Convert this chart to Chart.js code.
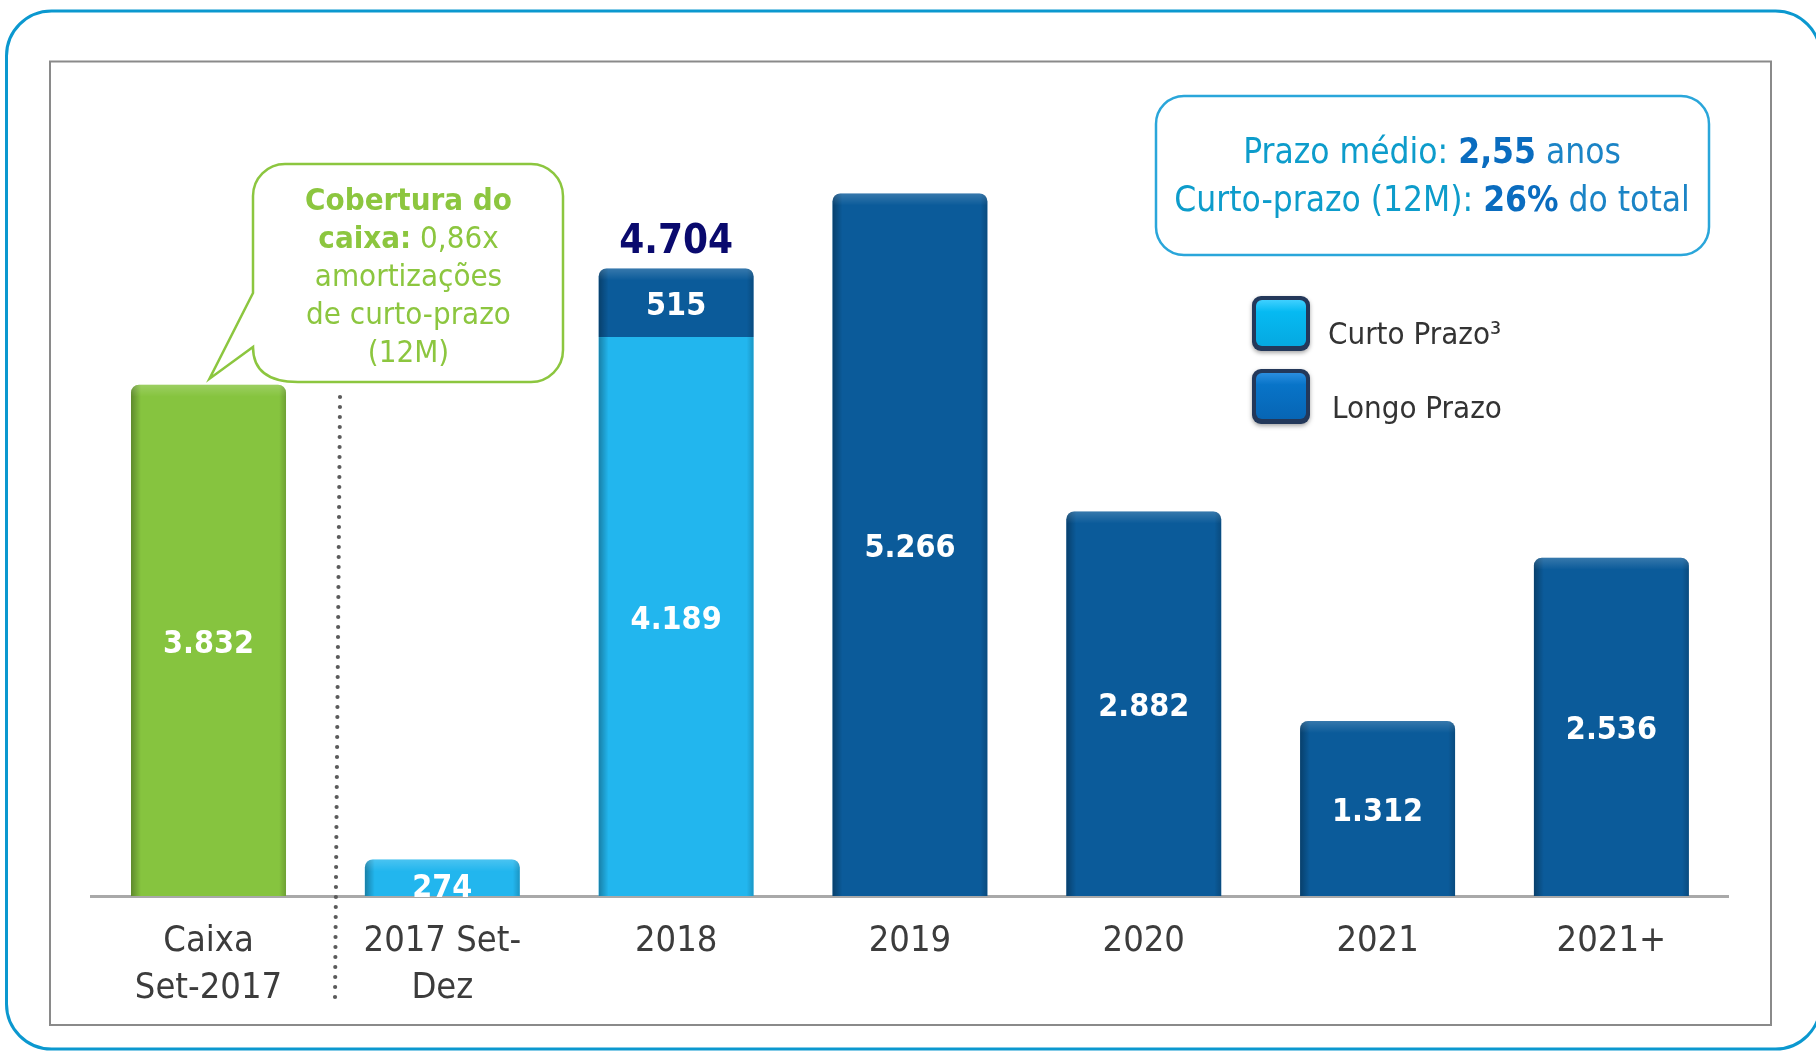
<!DOCTYPE html>
<html><head><meta charset="utf-8">
<script src="https://cdn.jsdelivr.net/npm/chart.js@4.4.1/dist/chart.umd.min.js"></script>
<style>html,body{margin:0;padding:0;background:#fff;}canvas{display:block}</style>
</head><body>
<canvas id="c" width="1816" height="1053"></canvas>
<script>
// ---- data ----
const categories = [['Caixa', 'Set-2017'], ['2017 Set-', 'Dez'], '2018', '2019', '2020', '2021', '2021+'];
const caixaValues = [3832, null, null, null, null, null, null];
const curtoPrazoValues = [null, 274, 4189, null, null, null, null];
const longoPrazoValues = [null, null, 515, 5266, 2882, 1312, 2536];
const seriesNames = ['Caixa Set-2017', 'Curto Prazo³', 'Longo Prazo'];
const yMax = 6000;
const calloutLines = [
  [{t: 'Cobertura do', b: true}],
  [{t: 'caixa:', b: true}, {t: ' 0,86x', b: false}],
  [{t: 'amortizações', b: false}],
  [{t: 'de curto-prazo', b: false}],
  [{t: '(12M)', b: false}]
];
const infoLines = [
  [{t: 'Prazo médio: ', b: false, c: '#0d9ccb'}, {t: '2,55', b: true, c: '#0a6cbf'}, {t: ' anos', b: false, c: '#1b84c6'}],
  [{t: 'Curto-prazo (12M): ', b: false, c: '#0d9ccb'}, {t: '26%', b: true, c: '#0a6cbf'}, {t: ' do total', b: false, c: '#1b84c6'}]
];

// ---- styling ----
const FONT = '"DejaVu Sans Condensed", "DejaVu Sans", sans-serif';
const GREEN = '#86c43f', LIGHT = '#22b6ee', DARK = '#0b5b9a';
const fmt = v => String(v).replace(/\B(?=(\d{3})+(?!\d))/g, '.');
const fontStr = (b, s) => (b ? 'bold ' : '') + s + 'px ' + FONT;

function drawRuns(ctx, runs, cx, y, size, defColor) {
  let total = 0;
  const ws = runs.map(r => { ctx.font = fontStr(r.b, size); const w = ctx.measureText(r.t).width; total += w; return w; });
  let x = cx - total / 2;
  ctx.textAlign = 'left'; ctx.textBaseline = 'alphabetic';
  runs.forEach((r, i) => { ctx.font = fontStr(r.b, size); ctx.fillStyle = r.c || defColor; ctx.fillText(r.t, x, y); x += ws[i]; });
}

function topRadius(di, i) {
  if (di === 1 && longoPrazoValues[i] != null) return 0;
  return 8;
}

const framePlugin = {
  id: 'frame',
  beforeDraw(chart) {
    const ctx = chart.ctx;
    ctx.save();
    ctx.fillStyle = '#fff'; ctx.fillRect(0, 0, chart.width, chart.height);
    ctx.strokeStyle = '#0b98cf'; ctx.lineWidth = 3;
    ctx.beginPath(); ctx.roundRect(6.5, 11, 1814, 1038, 45); ctx.stroke();
    ctx.strokeStyle = '#8a8a8a'; ctx.lineWidth = 2;
    ctx.strokeRect(50, 61.5, 1721, 963.5);
    ctx.restore();
  }
};

const shadePlugin = {
  id: 'shade',
  afterDatasetsDraw(chart) {
    const ctx = chart.ctx;
    chart.data.datasets.forEach((ds, di) => {
      const meta = chart.getDatasetMeta(di);
      meta.data.forEach((el, i) => {
        if (ds.data[i] == null) return;
        const p = el.getProps(['x', 'y', 'base', 'width'], true);
        const l = p.x - p.width / 2, r = p.x + p.width / 2, top = Math.min(p.y, p.base), h = Math.abs(p.base - p.y);
        const rad = topRadius(di, i);
        ctx.save();
        ctx.beginPath(); ctx.roundRect(l, top, p.width, h, [rad, rad, 0, 0]); ctx.clip();
        let g = ctx.createLinearGradient(l, 0, l + 10, 0);
        g.addColorStop(0, 'rgba(0,0,0,0.30)'); g.addColorStop(1, 'rgba(0,0,0,0)');
        ctx.fillStyle = g; ctx.fillRect(l, top, 10, h);
        g = ctx.createLinearGradient(r - 7, 0, r, 0);
        g.addColorStop(0, 'rgba(0,0,0,0)'); g.addColorStop(1, 'rgba(0,0,0,0.18)');
        ctx.fillStyle = g; ctx.fillRect(r - 7, top, 7, h);
        if (rad) {
          g = ctx.createLinearGradient(0, top, 0, top + 12);
          g.addColorStop(0, 'rgba(255,255,255,0.18)'); g.addColorStop(1, 'rgba(255,255,255,0)');
          ctx.fillStyle = g; ctx.fillRect(l, top, p.width, 12);
        }
        ctx.restore();
      });
    });
  }
};

const overlayPlugin = {
  id: 'overlay',
  afterDraw(chart) {
    const ctx = chart.ctx;
    const xs = chart.scales.x;
    ctx.save();

    // dotted separator between first two categories
    const mid = (xs.getPixelForValue(0) + xs.getPixelForValue(1)) / 2;
    ctx.fillStyle = '#5a5a5a';
    for (let y = 397; y <= 999; y += 10) {
      const t = (y - 397) / 602;
      ctx.beginPath(); ctx.arc(mid + 14.6 - 5 * t, y, 2.1, 0, Math.PI * 2); ctx.fill();
    }

    // value labels
    chart.data.datasets.forEach((ds, di) => {
      const meta = chart.getDatasetMeta(di);
      meta.data.forEach((el, i) => {
        const v = ds.data[i];
        if (v == null) return;
        const p = el.getProps(['x', 'y', 'base'], true);
        const h = Math.abs(p.base - p.y);
        let cy = (p.y + p.base) / 2 + 4;
        if (h < 50) cy = p.base - 7;
        ctx.font = fontStr(true, 32); ctx.fillStyle = '#ffffff';
        ctx.textAlign = 'center'; ctx.textBaseline = 'middle';
        ctx.fillText(fmt(v), p.x, cy);
      });
    });

    // stack total above stacked bar
    const m2 = chart.getDatasetMeta(2);
    categories.forEach((c, i) => {
      if (curtoPrazoValues[i] != null && longoPrazoValues[i] != null) {
        const p = m2.data[i].getProps(['x', 'y'], true);
        ctx.font = fontStr(true, 40); ctx.fillStyle = '#0a0a6e';
        ctx.textAlign = 'center'; ctx.textBaseline = 'alphabetic';
        ctx.fillText(fmt(curtoPrazoValues[i] + longoPrazoValues[i]), p.x, p.y - 15);
      }
    });

    // callout bubble
    const cb = chart.getDatasetMeta(0).data[0].getProps(['x', 'y'], true);
    const L = 253, T = 164, R = 563, B = 382, r = 32;
    ctx.beginPath();
    ctx.moveTo(L + r, T);
    ctx.lineTo(R - r, T); ctx.arcTo(R, T, R, T + r, r);
    ctx.lineTo(R, B - r); ctx.arcTo(R, B, R - r, B, r);
    ctx.lineTo(L + 45, B); ctx.quadraticCurveTo(L, B, L, 347);
    ctx.lineTo(cb.x + 1, cb.y - 6); ctx.lineTo(L, 293);
    ctx.lineTo(L, T + r); ctx.arcTo(L, T, L + r, T, r);
    ctx.closePath();
    ctx.fillStyle = '#fff'; ctx.fill();
    ctx.strokeStyle = '#8cc63f'; ctx.lineWidth = 2.5; ctx.stroke();
    calloutLines.forEach((runs, k) => drawRuns(ctx, runs, 408.5, 210 + 38 * k, 31, '#8cc63f'));

    // info box
    ctx.beginPath(); ctx.roundRect(1156, 96, 553, 159, 28);
    ctx.strokeStyle = '#2aa6da'; ctx.lineWidth = 2.5; ctx.stroke();
    infoLines.forEach((runs, k) => drawRuns(ctx, runs, 1432, 163 + 48 * k, 35, '#0d9ccb'));

    // legend (series 1 and 2)
    [1, 2].forEach((di, k) => {
      const ds = chart.data.datasets[di];
      const ix = 1252, iy = 296 + 73 * k, w = 58, hh = 55;
      ctx.save();
      ctx.shadowColor = 'rgba(0,0,0,0.35)'; ctx.shadowBlur = 4; ctx.shadowOffsetY = 2;
      ctx.beginPath(); ctx.roundRect(ix, iy, w, hh, 9);
      ctx.fillStyle = '#23385a'; ctx.fill();
      ctx.restore();
      const g = ctx.createLinearGradient(0, iy + 4, 0, iy + hh - 4);
      g.addColorStop(0, di === 1 ? '#3fd0ff' : '#2a8ee0');
      g.addColorStop(0.25, di === 1 ? '#06baf2' : '#0874c8');
      g.addColorStop(1, di === 1 ? '#05a8e0' : '#0765b4');
      ctx.beginPath(); ctx.roundRect(ix + 4, iy + 4, w - 8, hh - 9, 6);
      ctx.fillStyle = g; ctx.fill();
      ctx.font = fontStr(false, 31); ctx.fillStyle = '#333333';
      ctx.textAlign = 'left'; ctx.textBaseline = 'alphabetic';
      ctx.fillText(ds.label, 1328 + 4 * k, 344 + 74 * k);
    });
    ctx.restore();
  }
};

new Chart(document.getElementById('c'), {
  type: 'bar',
  data: {
    labels: categories,
    datasets: [
      {label: seriesNames[0], data: caixaValues, backgroundColor: GREEN},
      {label: seriesNames[1], data: curtoPrazoValues, backgroundColor: LIGHT},
      {label: seriesNames[2], data: longoPrazoValues, backgroundColor: DARK}
    ].map((d, di) => Object.assign(d, {
      borderWidth: 0,
      borderSkipped: 'start',
      borderRadius: (c) => { const r = topRadius(di, c.dataIndex); return {topLeft: r, topRight: r, bottomLeft: 0, bottomRight: 0}; },
      barPercentage: 0.663,
      categoryPercentage: 1
    }))
  },
  options: {
    responsive: false,
    animation: false,
    devicePixelRatio: 1,
    layout: {padding: {left: 91.6, right: 87.7, top: 95.5, bottom: 0}},
    plugins: {legend: {display: false}, tooltip: {enabled: false}},
    scales: {
      x: {
        stacked: true,
        grid: {display: false, drawTicks: false},
        border: {display: true, color: '#a9a9a9', width: 3},
        ticks: {color: '#3c3c3c', font: {family: FONT, size: 36, lineHeight: 47 / 36}, padding: 22, maxRotation: 0, autoSkip: false},
        afterFit: (s) => { s.height = 157; }
      },
      y: {stacked: true, display: false, min: 0, max: yMax}
    }
  },
  plugins: [framePlugin, shadePlugin, overlayPlugin]
});
</script>
</body></html>
